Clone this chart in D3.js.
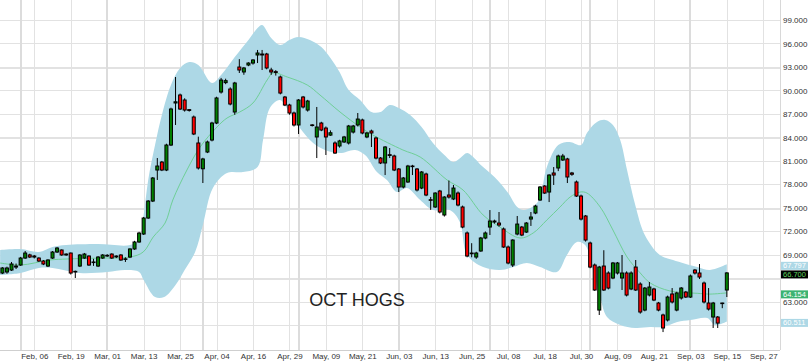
<!DOCTYPE html>
<html>
<head>
<meta charset="utf-8">
<script src="https://cdn.jsdelivr.net/npm/d3@7/dist/d3.min.js"></script>
<style>
  body { margin: 0; background: #fff; }
  svg { display: block; font-family: "Liberation Sans", Arial, sans-serif; }
</style>
</head>
<body>
<div id="chart"></div>
<script>
// candle values, one entry per trading day (index 0 .. 159)
const open = [66.69,66.82,67.07,67.45,67.71,68.60,69.00,68.73,68.60,68.22,67.58,68.60,69.37,69.63,69.11,69.24,66.90,67.58,68.60,68.86,
  68.10,67.58,68.60,68.86,69.11,68.86,68.99,68.45,68.73,69.76,70.65,71.67,73.71,75.88,79.84,80.86,79.84,83.03,88.40,89.42,
  88.78,87.55,86.61,83.29,80.00,82.14,83.67,85.84,89.80,91.00,90.18,87.25,92.99,92.36,93.25,93.50,94.53,94.65,94.65,92.61,
  92.40,91.72,89.16,88.14,87.12,85.59,89.16,87.50,85.60,84.06,85.84,85.20,84.30,83.29,82.91,83.42,83.29,84.69,85.59,86.23,
  84.06,84.82,83.93,81.37,80.74,81.80,81.63,79.97,77.67,78.31,80.35,79.97,77.54,79.33,76.05,75.12,77.16,74.10,76.65,76.14,
  76.90,75.12,71.80,69.24,68.73,69.50,71.16,72.56,73.20,73.07,72.31,70.01,67.71,71.67,72.56,71.92,73.58,74.35,76.01,77.80,
  77.03,79.46,80.10,81.12,81.25,79.46,78.31,76.52,73.97,70.52,67.71,61.96,67.58,66.69,66.05,66.69,66.05,66.69,64.65,67.45,
  65.28,61.96,63.88,64.65,62.86,61.33,60.69,64.01,61.96,63.50,64.26,63.62,67.07,66.69,65.41,62.86,61.07,61.07,62.86,64.52];
const high = [67.45,67.50,68.10,67.90,68.75,69.50,69.15,69.00,68.70,68.35,68.45,69.50,70.00,69.70,69.20,69.30,67.00,69.10,69.25,68.95,
  68.50,68.85,69.10,69.10,69.20,68.95,69.10,68.70,69.85,70.80,71.95,73.85,76.00,78.95,81.37,81.00,83.20,87.80,91.72,89.60,
  89.00,87.60,86.80,84.10,81.40,83.60,86.00,89.20,91.60,91.50,90.40,91.10,94.00,93.00,93.60,94.00,95.17,95.17,94.80,92.90,
  92.60,91.90,89.30,88.30,87.30,88.90,89.30,88.80,85.70,87.89,86.00,85.40,84.90,83.50,83.70,84.20,85.60,85.60,87.12,86.40,
  84.70,85.00,84.10,81.50,82.90,82.65,81.80,80.10,78.95,80.50,80.50,80.10,79.70,79.50,76.40,77.00,77.30,76.50,78.50,77.93,
  77.10,75.30,72.00,70.50,69.40,71.30,72.00,74.73,73.50,74.48,72.50,70.20,71.00,73.97,72.70,73.20,74.48,75.40,77.80,77.90,
  79.30,80.22,81.80,81.90,81.40,79.60,78.50,76.70,74.10,70.70,67.90,67.60,69.60,66.90,68.10,68.10,68.99,66.90,66.90,68.35,
  65.50,64.90,65.54,64.80,63.00,61.50,63.80,64.77,64.30,64.90,64.40,66.50,67.20,67.84,65.60,64.77,63.00,61.20,62.90,66.80];
const low = [66.56,66.60,66.95,67.20,67.60,68.50,68.60,68.55,68.10,67.70,67.45,68.50,69.25,68.90,68.90,66.50,66.05,67.45,68.50,67.60,
  67.60,67.45,68.50,68.75,68.50,68.60,68.25,68.10,68.60,69.65,70.55,71.55,73.60,75.75,78.57,79.70,79.70,82.90,85.59,87.50,
  87.30,87.30,84.30,79.90,78.18,82.00,83.50,85.70,89.60,90.80,88.10,86.90,92.23,92.00,93.10,93.30,93.50,92.61,92.70,92.00,
  91.90,89.50,88.00,86.90,85.40,84.44,87.70,87.30,85.40,81.37,84.80,81.76,84.20,81.90,82.70,83.30,83.10,84.50,85.40,84.40,
  83.90,82.78,81.20,80.60,79.20,81.37,79.70,77.03,77.50,78.20,79.20,77.10,77.40,76.50,74.75,75.00,74.30,73.90,76.20,76.00,
  75.20,72.40,68.70,68.70,68.50,69.40,71.00,71.54,73.00,72.60,69.90,67.80,67.45,71.50,71.40,71.80,72.70,74.20,75.90,76.80,
  75.75,77.93,79.70,81.00,78.18,79.10,76.40,73.40,70.70,67.30,64.40,61.33,64.40,64.60,65.90,66.50,64.52,63.70,64.50,64.40,
  61.50,61.80,63.70,63.10,61.80,59.15,60.50,62.80,61.80,63.30,63.50,63.50,66.50,65.92,62.80,61.90,59.67,59.67,62.20,63.62];
const close = [67.33,67.33,67.84,67.58,68.60,69.24,68.73,68.86,68.22,67.84,68.35,69.37,69.88,68.99,68.99,66.69,66.82,68.99,69.11,67.71,
  68.05,68.73,68.99,68.95,68.60,68.75,68.35,68.50,69.76,70.65,71.79,73.71,75.88,78.82,80.35,79.84,83.03,87.63,88.55,87.63,
  87.50,87.45,84.44,80.10,81.25,83.42,85.84,89.04,91.33,91.25,88.27,90.95,92.61,92.87,93.50,93.89,94.78,94.53,92.87,92.36,
  92.30,89.67,88.14,87.12,85.59,88.78,87.89,88.65,85.55,85.33,84.95,84.06,84.60,82.01,83.55,84.06,85.46,85.46,86.35,84.57,
  84.57,84.57,81.37,80.74,82.78,81.70,79.84,77.67,78.82,80.35,80.30,77.29,79.59,76.65,76.00,76.90,74.48,76.39,76.39,77.54,
  75.37,72.56,68.86,69.15,69.24,71.16,71.80,73.33,73.33,72.82,70.01,67.97,70.90,72.94,71.54,73.07,73.84,75.24,77.67,76.90,
  79.20,79.20,81.63,81.63,78.95,79.30,76.52,73.58,70.90,67.45,64.52,67.45,64.52,64.77,67.97,67.97,66.69,63.88,66.69,64.52,
  61.71,64.77,64.90,63.24,61.96,59.67,63.62,62.99,64.14,64.77,63.62,66.31,66.69,66.18,62.99,62.09,62.86,60.30,62.80,66.70];

// band edges and middle line, read as [day index, price]
const upperBand = [[-0.5,69.63],[4,69.75],[8,69.37],[11,70.01],[14,70.26],[21,70.39],[28,70.26],[30,70.90],[31,74.10],[32,78.57],
  [33.5,83.03],[35,86.87],[37,90.70],[39,92.87],[41,93.63],[43,93.25],[46,90.95],[48,91.97],[51,94.27],[54,96.44],[56,97.97],
  [57,98.36],[59,96.70],[61,95.80],[63,96.44],[65,96.83],[67.5,96.44],[70,95.55],[72,94.14],[74,92.36],[76,90.06],[78.5,88.78],
  [81,87.25],[83,87.25],[85,88.14],[87,87.76],[89.5,86.87],[92,85.33],[94.5,83.29],[97,81.76],[99,80.86],[100.5,81.37],[102,82.01],
  [104,81.12],[105,80.48],[108,78.95],[111,76.90],[113,75.12],[114.5,74.73],[117.5,75.75],[119.5,80.22],[122,83.03],[124.5,83.42],
  [127,83.03],[128.3,84.57],[130.5,85.97],[132.3,86.23],[134,85.59],[135.6,83.67],[137.1,79.84],[138.9,75.37],[141,71.54],
  [144.3,68.99],[147.2,68.35],[152.5,67.45],[155.3,67.07],[159,67.797]];
const lowerBand = [[-0.5,66.43],[4,66.69],[8,67.33],[11,67.33],[17,66.69],[23,66.82],[27,67.07],[30,66.82],[31,65.80],[33.5,63.62],
  [35.5,63.62],[38,65.16],[40,67.07],[42.3,69.37],[44,72.82],[46.2,77.54],[49.3,79.46],[52.8,79.59],[56,80.22],[57.2,83.67],
  [58.7,87.76],[60.9,88.78],[63.1,87.12],[65.3,85.20],[68.2,83.29],[70.8,82.40],[74.1,82.01],[77.4,82.40],[79.6,81.76],[82.2,79.59],
  [84.4,78.57],[86.6,77.03],[88.8,77.54],[91.7,76.01],[94.5,74.73],[98.2,74.73],[100.4,73.20],[102,68.99],[105.5,67.45],[109.2,67.07],
  [112.1,67.45],[115.1,67.97],[118,67.45],[121.7,66.82],[123.9,68.99],[126.1,70.65],[127.9,70.26],[129.6,67.07],[131.2,63.62],
  [132.7,61.07],[135.6,60.05],[138.9,59.67],[142.2,59.79],[145,59.79],[148.1,60.43],[151,60.69],[154.7,60.94],[156.4,60.05],[159,60.511]];
const midLine = [[-0.5,67.97],[4,67.71],[10.4,68.35],[14.2,68.48],[21.4,68.60],[28,68.73],[30.9,69.37],[33.1,71.29],[35.7,73.07],
  [37.4,76.01],[40.5,79.84],[43.4,82.78],[47.1,85.33],[49.3,86.48],[52.1,87.25],[55,88.40],[58.1,91.33],[59.4,92.23],[62.5,91.72],
  [66.9,90.70],[69.7,89.42],[74.1,87.25],[78.5,85.33],[81.3,84.31],[87.9,82.40],[91.7,81.50],[97.6,78.57],[101.1,77.29],[105.5,74.10],
  [109.2,72.56],[113.6,71.16],[116.5,71.80],[119.5,73.46],[122.4,75.12],[124.6,76.39],[126.8,77.03],[128.3,76.90],[131.2,75.12],
  [134,72.18],[137.1,68.73],[140,66.69],[142.2,65.41],[146.5,64.40],[152.5,64.10],[155.3,64.00],[159,64.154]];

// axis ticks
const dateLabels = ["Feb, 06","Feb, 19","Mar, 01","Mar, 13","Mar, 25","Apr, 04","Apr, 16","Apr, 29","May, 09","May, 21","Jun, 03",
  "Jun, 13","Jun, 25","Jul, 08","Jul, 18","Jul, 30","Aug, 09","Aug, 21","Sep, 03","Sep, 15","Sep, 27"];
const dateIndex = [7,15,23,31,39,47,55,63,71,79,87,95,103,111,119,127,135,143,151,159,167];
const monthStartIndex = [4,23,44,65,87,107,129,151];
const priceTicks = [60,63,66,69,72,75,78,81,84,87,90,93,96,99];
const heavyPriceTicks = [66,75,84,93];
const coveredPriceTicks = [60,66];   // hidden behind the value tags
const title = "OCT HOGS";

const W = 808, H = 362, plotW = 780, plotH = 350;

const svg = d3.select("#chart").append("svg")
  .attr("width", W).attr("height", H);

const x = d3.scaleLinear().domain([-0.527, 170.67]).range([0, plotW]);
const y = d3.scaleLinear().domain([56.86, 101.55]).range([plotH, 0]);

// grid
const grid = svg.append("g").attr("shape-rendering", "crispEdges");
grid.selectAll(".hg").data(priceTicks).enter().append("line")
  .attr("x1", 0).attr("x2", plotW)
  .attr("y1", d => Math.round(y(d)) + 0.5).attr("y2", d => Math.round(y(d)) + 0.5)
  .attr("stroke", "#e2e2e2")
  .attr("stroke-width", d => heavyPriceTicks.includes(d) ? 2 : 1);
grid.selectAll(".vg").data(dateIndex).enter().append("line")
  .attr("y1", 0).attr("y2", plotH)
  .attr("x1", d => Math.round(x(d)) + 0.5).attr("x2", d => Math.round(x(d)) + 0.5)
  .attr("stroke", "#e2e2e2");
grid.selectAll(".mg").data(monthStartIndex).enter().append("line")
  .attr("y1", 0).attr("y2", plotH)
  .attr("x1", d => Math.round(x(d))).attr("x2", d => Math.round(x(d)))
  .attr("stroke", "#dcdcdc").attr("stroke-width", 2);

// bollinger band
const curve = d3.curveCatmullRom.alpha(0.5);
const edge = d3.line().x(d => x(d[0])).y(d => y(d[1])).curve(curve);
const upPath = edge(upperBand);
const loPath = edge(lowerBand.slice().reverse());
svg.append("path")
  .attr("d", upPath + "L" + loPath.slice(1) + "Z")
  .attr("fill", "#add8e6");

svg.append("path")
  .attr("d", edge(midLine))
  .attr("fill", "none")
  .attr("stroke", "#6fcf97")
  .attr("stroke-width", 1);

// candles
const candles = d3.range(close.length).map(i => ({ i, o: open[i], h: high[i], l: low[i], c: close[i] }));
const cg = svg.append("g");
cg.selectAll(".wick").data(candles).enter().append("line")
  .attr("x1", d => x(d.i)).attr("x2", d => x(d.i))
  .attr("y1", d => y(d.h)).attr("y2", d => y(d.l))
  .attr("stroke", "#000").attr("stroke-width", 1);
cg.selectAll(".body").data(candles).enter().append("rect")
  .attr("x", d => x(d.i) - 1.5)
  .attr("width", 3)
  .attr("y", d => y(Math.max(d.o, d.c)))
  .attr("height", d => Math.max(0.6, Math.abs(y(d.o) - y(d.c))))
  .attr("fill", d => d.c >= d.o ? "#008000" : "#ff0000")
  .attr("stroke", "#000").attr("stroke-width", 1);

// frame lines
svg.append("line").attr("x1", 0).attr("x2", plotW).attr("y1", plotH + 0.5).attr("y2", plotH + 0.5)
  .attr("stroke", "#cfcfcf");
svg.append("line").attr("x1", plotW + 0.5).attr("x2", plotW + 0.5).attr("y1", 0).attr("y2", plotH)
  .attr("stroke", "#d8d8d8");

// axes
const yAxis = d3.axisRight(y)
  .tickValues(priceTicks.filter(d => !coveredPriceTicks.includes(d)))
  .tickFormat(d3.format(".3f")).tickSize(0).tickPadding(3);
const ya = svg.append("g").attr("transform", `translate(${plotW},0)`).call(yAxis);
ya.select(".domain").remove();
ya.selectAll("text").attr("font-size", 8).attr("fill", "#333").attr("font-family", "Liberation Sans, Arial, sans-serif");

const xAxis = d3.axisBottom(x).tickValues(dateIndex).tickFormat((d, i) => dateLabels[i]).tickSize(0).tickPadding(3);
const xa = svg.append("g").attr("transform", `translate(0,${plotH})`).call(xAxis);
xa.select(".domain").remove();
xa.selectAll("text").attr("font-size", 8).attr("fill", "#333").attr("font-family", "Liberation Sans, Arial, sans-serif");

// last value tags
const tags = [
  { v: upperBand[upperBand.length - 1][1], bg: "#add8e6", fg: "#fff" },
  { v: close[close.length - 1], bg: "#000", fg: "#5fd35f" },
  { v: midLine[midLine.length - 1][1], bg: "#3cb371", fg: "#fff" },
  { v: lowerBand[lowerBand.length - 1][1], bg: "#add8e6", fg: "#fff" }
];
const tg = svg.append("g");
tags.forEach(t => {
  const cy = y(t.v) + 1.5;
  tg.append("rect").attr("x", plotW + 1).attr("y", cy - 4).attr("width", 27).attr("height", 8).attr("fill", t.bg);
  tg.append("text").attr("x", plotW + 3).attr("y", cy + 2.5)
    .attr("font-size", 7.5).attr("fill", t.fg).text(d3.format(".3f")(t.v));
});

// title
svg.append("text")
  .attr("x", 357).attr("y", 306)
  .attr("text-anchor", "middle")
  .attr("font-size", 18)
  .attr("fill", "#222")
  .text(title);
</script>
</body>
</html>
